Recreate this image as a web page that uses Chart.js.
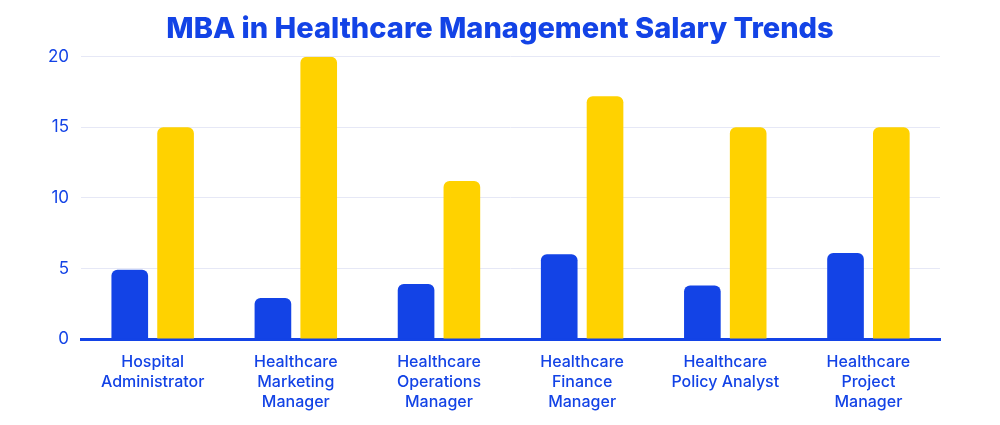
<!DOCTYPE html>
<html>
<head>
<meta charset="utf-8">
<script src="https://cdn.jsdelivr.net/npm/chart.js@4"></script>
<style>
    html, body { margin: 0; padding: 0; background: #ffffff; }
    #wrap { width: 1000px; height: 425px; position: relative; }
</style>
</head>
<body>
<div id="wrap"><canvas id="chart"></canvas></div>
<script>
    // chart data
    const categories = [
        ['Hospital', 'Administrator'],
        ['Healthcare', 'Marketing', 'Manager'],
        ['Healthcare', 'Operations', 'Manager'],
        ['Healthcare', 'Finance', 'Manager'],
        ['Healthcare', 'Policy Analyst'],
        ['Healthcare', 'Project', 'Manager']
    ];
    const entryValues = [4.9, 2.9, 3.9, 6.0, 3.8, 6.1];
    const seniorValues = [15, 20, 11.2, 17.2, 15, 15];
    const yTicks = [0, 5, 10, 15, 20];

    const BLUE = '#1343e6';
    const YELLOW = '#ffd200';
    const FONT = 'Inter, "Open Sans", sans-serif';

    // centre the title on the whole canvas, not on the padded box
    const centreTitle = {
        id: 'centreTitle',
        afterLayout: function (chart) {
            if (chart.titleBlock) {
                chart.titleBlock.left = 0;
                chart.titleBlock.right = chart.width;
            }
        }
    };

    new Chart(document.getElementById('chart'), {
        type: 'bar',
        data: {
            labels: categories,
            datasets: [
                { data: entryValues, backgroundColor: BLUE, borderRadius: { topLeft: 6, topRight: 6 }, borderSkipped: 'bottom' },
                { data: seniorValues, backgroundColor: YELLOW, borderRadius: { topLeft: 6, topRight: 6 }, borderSkipped: 'bottom' }
            ]
        },
        options: {
            responsive: true,
            maintainAspectRatio: false,
            animation: false,
            categoryPercentage: 0.64,
            barPercentage: 0.8,
            layout: { padding: { left: 36, right: 60, top: 0, bottom: 8 } },
            plugins: {
                legend: { display: false },
                tooltip: { enabled: false },
                title: {
                    display: true,
                    text: 'MBA in Healthcare Management Salary Trends',
                    color: BLUE,
                    font: { family: FONT, size: 29, weight: '800' },
                    padding: { top: 12, bottom: 10 }
                }
            },
            scales: {
                x: {
                    grid: { display: false },
                    border: { color: BLUE, width: 3 },
                    ticks: {
                        color: BLUE,
                        font: { family: FONT, size: 16, weight: '500', lineHeight: 1.25 },
                        maxRotation: 0,
                        autoSkip: false,
                        padding: 5
                    }
                },
                y: {
                    min: 0,
                    max: 20,
                    afterBuildTicks: function (axis) {
                        axis.ticks = yTicks.map(function (v) { return { value: v }; });
                    },
                    grid: { color: '#e6e8f6', drawTicks: false },
                    border: { display: false },
                    ticks: {
                        color: BLUE,
                        font: { family: FONT, size: 17 },
                        padding: 12
                    }
                }
            }
        },
        plugins: [centreTitle]
    });
</script>
</body>
</html>
